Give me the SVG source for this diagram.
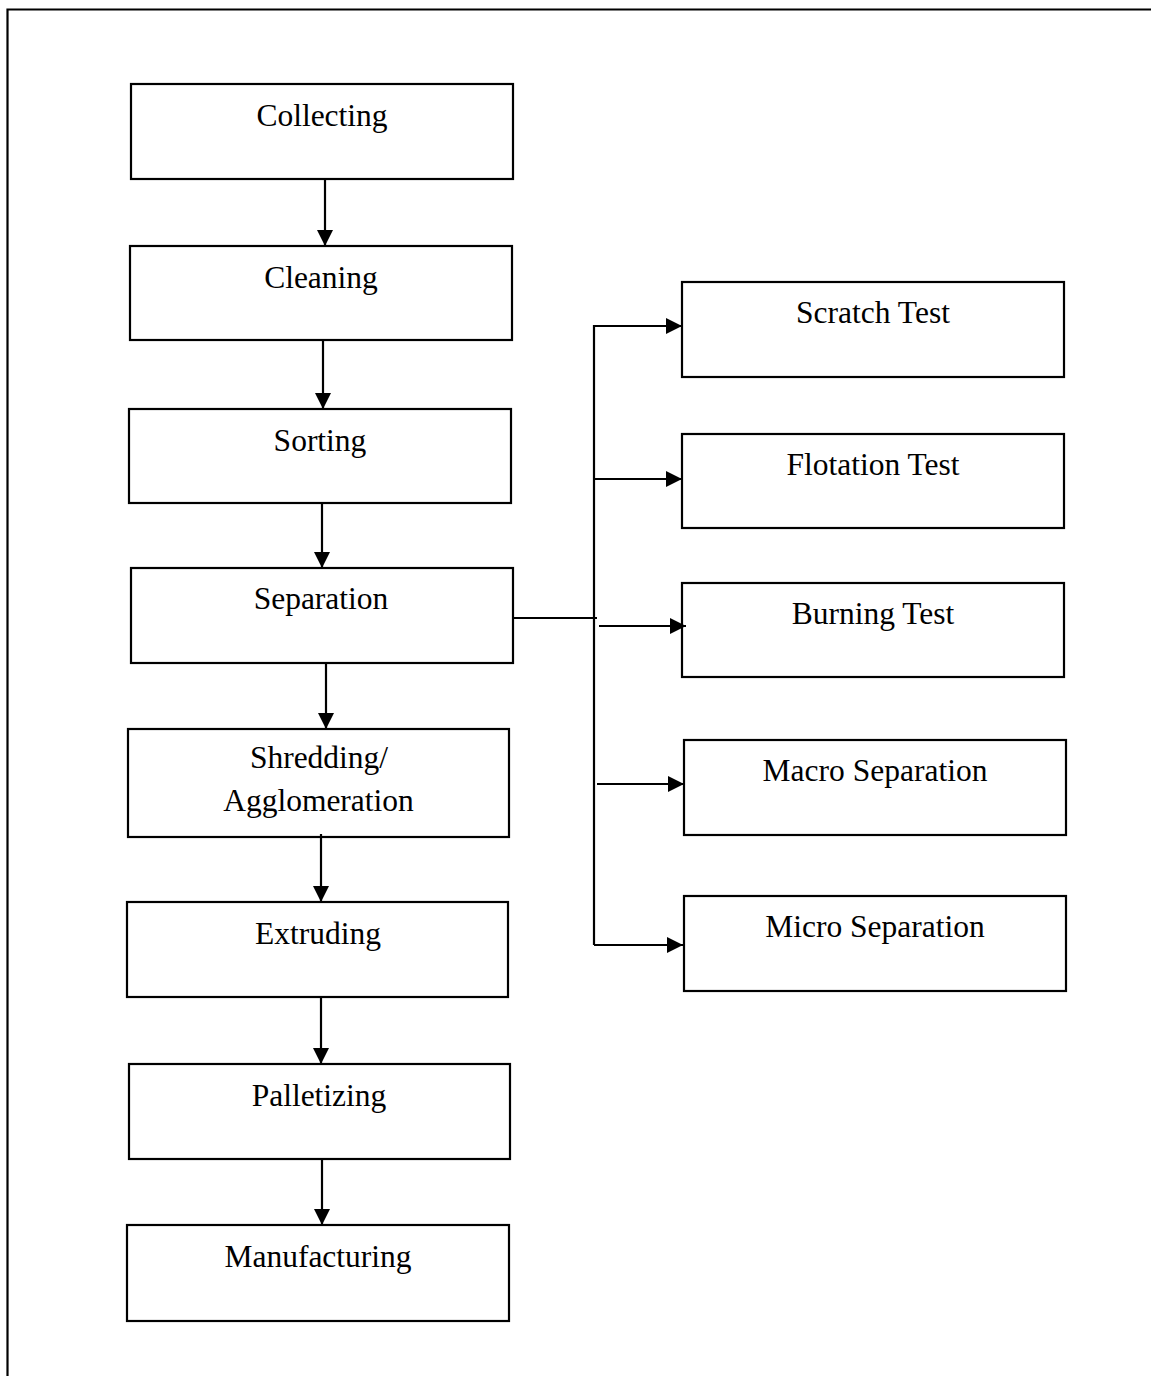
<svg xmlns="http://www.w3.org/2000/svg" width="1151" height="1376" viewBox="0 0 1151 1376">
<style>
.box{fill:#fff;stroke:#000;stroke-width:2.2}
.lbl{font-family:"Liberation Serif","Times New Roman",serif;font-size:31.5px;fill:#000;text-anchor:middle}
.ln{fill:none;stroke:#000;stroke-width:2.2}
</style>
<defs>
<marker id="ah" markerUnits="userSpaceOnUse" markerWidth="20" markerHeight="20" refX="16" refY="8" orient="auto" overflow="visible">
<path d="M0,0 L16,8 L0,16 z" fill="#000"/>
</marker>
</defs>
<rect width="1151" height="1376" fill="#fff"/>
<path class="ln" d="M7.5,1376 V9.5 H1151"/>
<g id="n-collecting"><rect class="box" x="131" y="84" width="382" height="95"/><text class="lbl" x="322" y="126">Collecting</text></g>
<g id="n-cleaning"><rect class="box" x="130" y="246" width="382" height="94"/><text class="lbl" x="321" y="288">Cleaning</text></g>
<g id="n-sorting"><rect class="box" x="129" y="409" width="382" height="94"/><text class="lbl" x="320" y="451">Sorting</text></g>
<g id="n-separation"><rect class="box" x="131" y="568" width="382" height="95"/><text class="lbl" x="321" y="609">Separation</text></g>
<g id="n-shredding"><rect class="box" x="128" y="729" width="381" height="108"/><text class="lbl" x="319" y="768">Shredding/</text><text class="lbl" x="318.5" y="811">Agglomeration</text></g>
<g id="n-extruding"><rect class="box" x="127" y="902" width="381" height="95"/><text class="lbl" x="318" y="944">Extruding</text></g>
<g id="n-palletizing"><rect class="box" x="129" y="1064" width="381" height="95"/><text class="lbl" x="319" y="1106">Palletizing</text></g>
<g id="n-manufacturing"><rect class="box" x="127" y="1225" width="382" height="96"/><text class="lbl" x="318" y="1267">Manufacturing</text></g>
<g id="n-scratch"><rect class="box" x="682" y="282" width="382" height="95"/><text class="lbl" x="873" y="323">Scratch Test</text></g>
<g id="n-flotation"><rect class="box" x="682" y="434" width="382" height="94"/><text class="lbl" x="873" y="475">Flotation Test</text></g>
<g id="n-burning"><rect class="box" x="682" y="583" width="382" height="94"/><text class="lbl" x="873" y="624">Burning Test</text></g>
<g id="n-macro"><rect class="box" x="684" y="740" width="382" height="95"/><text class="lbl" x="875" y="781">Macro Separation</text></g>
<g id="n-micro"><rect class="box" x="684" y="896" width="382" height="95"/><text class="lbl" x="875" y="937">Micro Separation</text></g>
<g id="connectors">
<path class="ln" d="M325,179 V246" marker-end="url(#ah)"/>
<path class="ln" d="M323,340 V409" marker-end="url(#ah)"/>
<path class="ln" d="M322,503 V568" marker-end="url(#ah)"/>
<path class="ln" d="M326,663 V729" marker-end="url(#ah)"/>
<path class="ln" d="M321,834 V902" marker-end="url(#ah)"/>
<path class="ln" d="M321,997 V1064" marker-end="url(#ah)"/>
<path class="ln" d="M322,1159 V1225" marker-end="url(#ah)"/>
<path class="ln" d="M513,618 H597"/>
<path class="ln" d="M594,945 V326 H682" marker-end="url(#ah)"/>
<path class="ln" d="M594,945 H683" marker-end="url(#ah)"/>
<path class="ln" d="M594,479 H682" marker-end="url(#ah)"/>
<path class="ln" d="M599,626 H686" marker-end="url(#ah)"/>
<path class="ln" d="M597,784 H684" marker-end="url(#ah)"/>
</g>
</svg>
